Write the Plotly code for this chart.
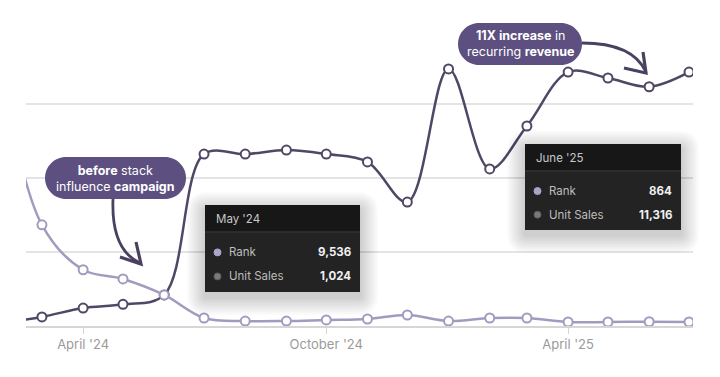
import plotly.graph_objects as go

# ---------------- data ----------------
months = ["2024-02-01", "2024-03-01", "2024-04-01", "2024-05-01", "2024-06-01",
          "2024-07-01", "2024-08-01", "2024-09-01", "2024-10-01", "2024-11-01",
          "2024-12-01", "2025-01-01", "2025-02-01", "2025-03-01", "2025-04-01",
          "2025-05-01", "2025-06-01", "2025-07-01"]
unit_sales = [150, 430, 850, 1024, 1470, 8130, 8130, 8320, 8130, 7760,
              5860, 12160, 7430, 9460, 12010, 11730, 11316, 12010]
rank = [50000, 20500, 11400, 9536, 6300, 1620, 1010, 1010, 1220, 1420,
        2230, 1010, 1620, 1620, 810, 810, 864, 810]
tick_vals = ["2024-04-01", "2024-10-01", "2025-04-01"]
tick_text = ["April '24", "October '24", "April '25"]
tooltip_months = ["May '24", "June '25"]
tooltip_idx = [3, 16]

DARK = "#504766"
LIGHT = "#a39bbf"
BUBBLE = "#5d5080"
ARROW = "#4a4160"

OFF = 8  # default body margin of the page
W, H = 720 - 2 * OFF, 377 - 2 * OFF
PL, PT, PR, PB = 26, 30, 693, 326     # plot area in window pixels
L, T = PL - OFF, PT - OFF
PW, PH = PR - PL, PB - PT
R, B = W - L - PW, H - T - PH


def px(x):
    return (x - PL) / PW


def py(y):
    return (PB - y) / PH


def P(x, y):
    return f"{px(x):.5f},{py(y):.5f}"


fig = go.Figure()

fig.add_trace(go.Scatter(
    x=months, y=rank, yaxis="y2", mode="lines+markers", name="Rank",
    line=dict(color=LIGHT, width=2.5, shape="spline", smoothing=1.0),
    marker=dict(size=9, color="white", line=dict(color=LIGHT, width=2)),
    hoverinfo="skip"))
fig.add_trace(go.Scatter(
    x=months, y=unit_sales, mode="lines+markers", name="Unit Sales",
    line=dict(color=DARK, width=2.5, shape="spline", smoothing=1.0),
    marker=dict(size=9, color="white", line=dict(color=DARK, width=2)),
    hoverinfo="skip"))

shapes = []
annotations = []


def rounded_rect(x0, y0, x1, y1, r):
    return (f"M {P(x0 + r, y0)} L {P(x1 - r, y0)} Q {P(x1, y0)} {P(x1, y0 + r)} "
            f"L {P(x1, y1 - r)} Q {P(x1, y1)} {P(x1 - r, y1)} L {P(x0 + r, y1)} "
            f"Q {P(x0, y1)} {P(x0, y1 - r)} L {P(x0, y0 + r)} Q {P(x0, y0)} {P(x0 + r, y0)} Z")


def pill(x0, y0, x1, y1, lines):
    r = (y1 - y0) / 2
    k = 0.5523 * r
    path = (f"M {P(x0 + r, y0)} L {P(x1 - r, y0)} "
            f"C {P(x1 - r + k, y0)} {P(x1, y0 + r - k)} {P(x1, y0 + r)} "
            f"C {P(x1, y0 + r + k)} {P(x1 - r + k, y1)} {P(x1 - r, y1)} "
            f"L {P(x0 + r, y1)} "
            f"C {P(x0 + r - k, y1)} {P(x0, y0 + r + k)} {P(x0, y0 + r)} "
            f"C {P(x0, y0 + r - k)} {P(x0 + r - k, y0)} {P(x0 + r, y0)} Z")
    shapes.append(dict(type="path", xref="paper", yref="paper", path=path,
                       fillcolor=BUBBLE, line=dict(width=0), layer="above"))
    annotations.append(dict(xref="paper", yref="paper", x=px((x0 + x1) / 2),
                            y=py((y0 + y1) / 2), text=lines, showarrow=False,
                            font=dict(family="Inter, sans-serif", size=12.5, color="white"),
                            xanchor="center", yanchor="middle", align="center"))


def arrow(curve, head):
    shapes.append(dict(type="path", xref="paper", yref="paper", path=curve,
                       line=dict(color=ARROW, width=2.8), layer="above"))
    shapes.append(dict(type="path", xref="paper", yref="paper", path=head,
                       line=dict(color=ARROW, width=3.2), layer="above"))


def tooltip(x0, y0, x1, y1, hy, title, idx):
    # soft shadow
    for i in range(12):
        g = 1.5 * (i + 1)
        shapes.append(dict(type="path", xref="paper", yref="paper",
                           path=rounded_rect(x0 - g, y0 - g + 5, x1 + g, y1 + g + 5, g + 2),
                           fillcolor="rgba(0,0,0,0.016)", line=dict(width=0), layer="above"))
    shapes.append(dict(type="rect", xref="paper", yref="paper", x0=px(x0), x1=px(x1),
                       y0=py(y1), y1=py(y0), fillcolor="#232323",
                       line=dict(width=0), layer="above"))
    shapes.append(dict(type="rect", xref="paper", yref="paper", x0=px(x0), x1=px(x1),
                       y0=py(hy), y1=py(y0), fillcolor="#171717",
                       line=dict(width=0), layer="above"))
    shapes.append(dict(type="line", xref="paper", yref="paper", x0=px(x0), x1=px(x1),
                       y0=py(hy), y1=py(hy), line=dict(color="#333333", width=1.5),
                       layer="above"))
    f = dict(family="Inter, sans-serif", size=11.5)
    annotations.append(dict(xref="paper", yref="paper", x=px(x0 + 9), y=py((y0 + hy) / 2),
                            text=title, showarrow=False, xanchor="left", yanchor="middle",
                            font=dict(color="#c8c8c8", **f)))
    rows = [("Rank", f"{rank[idx]:,}", "#aaa4c8", "#aaa4c8"),
            ("Unit Sales", f"{unit_sales[idx]:,}", "#7a7a7a", "#5a5a5a")]
    gap = (y1 - hy)
    ys = [hy + gap * 0.34, hy + gap * 0.74]
    for (lab, val, fc, lc), yy in zip(rows, ys):
        shapes.append(dict(type="circle", xref="paper", yref="paper",
                           x0=px(x0 + 9), x1=px(x0 + 16), y0=py(yy + 3.5), y1=py(yy - 3.5),
                           fillcolor=fc, line=dict(color=lc, width=1), layer="above"))
        annotations.append(dict(xref="paper", yref="paper", x=px(x0 + 22), y=py(yy),
                                text=lab, showarrow=False, xanchor="left", yanchor="middle",
                                font=dict(color="#bdbdbd", **f)))
        annotations.append(dict(xref="paper", yref="paper", x=px(x1 - 7), y=py(yy),
                                text=f"<b>{val}</b>", showarrow=False, xanchor="right",
                                yanchor="middle", font=dict(color="#f0f0f0", **f)))


tooltip(205, 205, 360, 292, 232, tooltip_months[0], tooltip_idx[0])
tooltip(525, 144, 681, 230, 171, tooltip_months[1], tooltip_idx[1])

pill(45, 157, 186, 199, "<b>before</b> stack<br>influence <b>campaign</b>")
pill(458, 23, 582, 65, "<b>11X increase</b> in<br>recurring <b>revenue</b>")

arrow(f"M {P(113, 199)} C {P(112, 225)} {P(116, 252)} {P(140, 263)}",
      f"M {P(136, 242)} L {P(141, 264)} L {P(120, 257)}")
arrow(f"M {P(582, 43)} C {P(610, 43)} {P(636, 50)} {P(646, 72)}",
      f"M {P(643, 52)} L {P(646, 73)} L {P(624, 68)}")

fig.update_layout(
    width=W, height=H, margin=dict(l=L, r=R, t=T, b=B, autoexpand=False),
    paper_bgcolor="white", plot_bgcolor="white", showlegend=False,
    shapes=shapes, annotations=annotations,
    xaxis=dict(type="date", range=["2024-02-18", "2025-07-04"], tickvals=tick_vals,
               ticktext=tick_text, showgrid=False, showline=True, linecolor="#d6d6d6",
               linewidth=1.5, ticks="outside", ticklen=6, tickcolor="#d6d6d6",
               tickfont=dict(family="Inter, sans-serif", size=13, color="#9a9a9a"),
               zeroline=False),
    yaxis=dict(range=[0, 14000], dtick=3500, showgrid=True, gridcolor="#e4e4e4",
               gridwidth=1.5, showticklabels=False, zeroline=False, showline=False),
    yaxis2=dict(range=[0, 60000], overlaying="y", showgrid=False, showticklabels=False,
                zeroline=False, showline=False),
)

fig.write_html("out.html")
